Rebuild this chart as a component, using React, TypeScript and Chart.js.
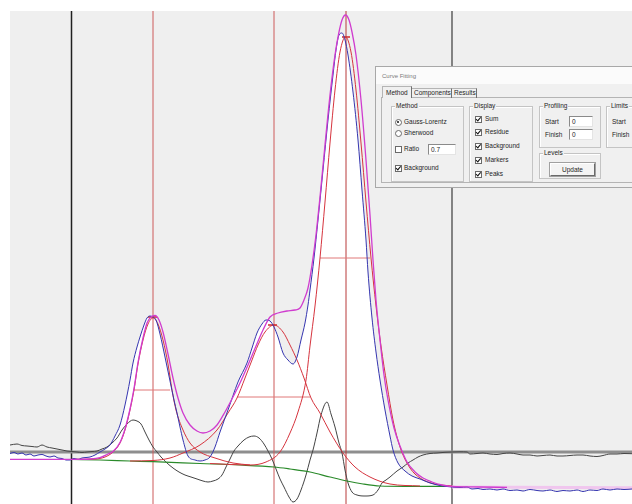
import React, { useEffect, useRef } from "react";
import { Chart, registerables } from "chart.js";

Chart.register(...registerables);

// ---- axis ranges (channel / intensity, arbitrary units) ----
const X_MIN = 0;
const X_MAX = 622;
const Y_MIN = 0;
const Y_MAX = 493;

// ---- measured spectrum (blue) ----
const measured: [number, number][] = [
  [0, 50.5], [4, 51.5], [8, 50], [12, 51], [16, 49], [20, 50], [24, 48], [28, 49], [32, 49.5], [36, 48],
  [40, 47], [44, 48], [48, 46], [52, 45.5], [56, 44], [60, 44], [64, 45.5], [68, 44.5], [72, 46], [76, 46.5],
  [80, 47], [85, 49], [90, 52], [95, 55], [100, 59], [105, 68], [110, 79], [115, 99], [120, 124], [123, 141],
  [127, 157], [130, 167], [134, 179], [137, 186], [140, 188], [143, 187], [146, 184], [150, 170], [155, 147],
  [160, 123], [164, 104], [167, 91], [170, 77], [173, 64], [178, 48], [185, 44], [190, 43], [195, 44], [200, 47],
  [205, 57], [210, 72], [218, 94], [228, 122], [237, 141], [242, 156], [247, 171], [252, 180], [256, 184],
  [260, 183], [264, 177], [268, 167], [273, 151], [278, 144], [283, 140], [287, 147], [291, 164], [295, 181],
  [298, 199], [300, 214], [304, 246], [308, 284], [313, 334], [318, 384], [323, 429], [326, 454], [329, 469],
  [332, 471], [335, 464], [338, 449], [343, 412], [348, 364], [352, 314], [356, 264], [358, 232], [362, 186],
  [366, 152], [370, 124], [375, 94], [380, 68], [383, 54], [388, 41], [395, 33], [402, 28], [410, 25],
  [420, 21], [430, 18.5], [442, 17], [450, 16.5], [457, 17], [462, 15], [468, 15.5], [473, 14.5], [480, 15],
  [487, 14], [493, 15], [500, 13.5], [507, 14], [513, 13], [520, 14.5], [527, 13.5], [533, 13], [540, 14],
  [547, 12.5], [553, 13.5], [560, 13], [567, 14], [573, 12.5], [580, 14], [587, 13.5], [593, 15], [600, 14],
  [607, 15], [614, 14.5], [622, 15],
];

// ---- fitted sum (magenta) ----
const fitSum: [number, number][] = [
  [0, 44.7], [62, 44.7], [80, 45], [90, 46.3], [98, 50], [103, 52.5], [110, 61.5], [115, 75], [120, 95],
  [124, 115.5], [128, 141.5], [133, 166], [137, 181], [141, 187], [145, 188.5], [149, 184], [153, 172],
  [158, 150], [163, 126], [168, 106],
  [173, 91], [180, 79], [187, 73], [193, 71], [200, 73], [207, 79], [215, 92], [223, 107], [230, 121],
  [238, 139], [246, 158], [253, 174], [260, 187], [268, 191], [277, 193], [285, 194], [290, 196], [294, 204],
  [298, 216], [302, 239], [306, 269], [310, 307], [315, 359], [320, 409], [325, 449], [329, 472], [332, 484],
  [335.5, 489], [339, 484], [342, 472], [346, 449], [351, 404], [356, 344], [360, 289], [363, 244], [366, 204],
  [370, 164], [374, 129], [378, 104], [384, 76], [390, 58], [397, 42], [405, 32], [413, 26], [422, 22],
  [432, 19], [442, 17.5], [470, 17], [497, 16.6],
];
const sumExtension: [number, number][] = [[442, 17], [622, 16.2]];

// ---- fitted components (red) ----
const peak1: [number, number][] = [
  [62, 44.7], [85, 45], [95, 47], [103, 52], [110, 61], [115, 74], [120, 94], [124, 114], [128, 140], [133, 164],
  [138, 180], [143, 186], [148, 180], [153, 164], [158, 140], [162, 114], [166, 94], [173, 74], [180, 61],
  [190, 52], [205, 46], [223, 41], [240, 39],
];
const peak2: [number, number][] = [
  [120, 43], [143, 43.5], [160, 46], [173, 51], [190, 59], [207, 74], [218, 91], [227, 106], [235, 126],
  [242, 144], [248, 159], [255, 172], [264, 179], [273, 172], [280, 159], [287, 144], [294, 126], [301, 106],
  [310, 91], [320, 72], [333, 51], [345, 37], [360, 27], [380, 20], [410, 18],
];
const peak3: [number, number][] = [
  [200, 40.5], [240, 39], [256, 42], [270, 52], [280, 71], [288, 92], [296, 124], [300, 158], [305, 198],
  [310, 246], [315, 302], [320, 361], [325, 414], [330, 452], [335.5, 467], [341, 452], [346, 414], [351, 361],
  [356, 302], [361, 246], [366, 198], [371, 158], [377, 119], [383, 84], [390, 57], [400, 36], [410, 26],
  [425, 20], [442, 18],
];

// ---- background (green) ----
const background: [number, number][] = [
  [62, 44.7], [90, 44], [120, 43], [143, 42.3], [190, 40.5], [230, 39], [264, 37], [280, 35], [300, 32],
  [320, 27], [337, 23], [353, 20], [370, 18], [400, 17.6], [442, 17.5],
];

// ---- residue (dark grey), plotted about its zero line ----
const residue: [number, number][] = [
  [0, 59], [7, 60], [12, 58.5], [17, 58], [22, 57.5], [27, 57], [32, 59], [37, 57], [42, 56], [47, 55],
  [52, 54], [57, 53], [62, 52.5], [67, 52], [72, 51.5], [77, 52], [82, 52.5], [87, 53], [92, 55], [97, 57],
  [102, 61], [107, 66], [112, 74], [117, 80], [123, 84], [127, 83], [131, 80], [135, 72], [139, 64], [143, 57],
  [147, 52], [151, 47], [157, 41], [163, 36], [169, 32], [175, 29], [181, 27], [187, 25], [193, 23], [198, 22],
  [203, 23], [208, 25], [212, 29], [216, 37], [220, 45], [224, 53], [228, 58], [234, 64], [239, 67], [244, 68],
  [249, 66], [254, 60], [258, 53], [262, 45], [266, 35], [270, 25], [274, 17], [279, 7], [283, 2], [287, 5],
  [291, 14], [296, 29], [300, 44], [303, 54], [307, 71], [311, 89], [317, 102], [321, 90], [325, 77], [329, 61],
  [332, 51], [335, 34], [338, 21], [342, 12], [347, 9], [355, 8], [363, 9], [368, 14], [372, 21], [376, 24],
  [380, 27], [387, 33], [393, 37], [398, 41], [403, 44], [408, 47], [413, 49], [420, 50.5], [427, 51],
  [435, 51.7], [442, 52], [450, 52.2], [457, 52], [460, 50], [467, 50.5], [473, 51], [480, 50], [487, 49.5],
  [493, 50.5], [500, 51], [507, 50], [513, 49], [520, 49], [527, 48], [533, 48.5], [540, 49], [547, 48],
  [553, 48], [560, 48.5], [567, 49], [573, 49], [580, 48], [587, 47.5], [593, 48.5], [600, 50], [607, 50],
  [614, 50.5], [622, 50.3],
];
const residueZero = 52;

// ---- markers ----
const fitLimits = [61.5, 442];
const peakCentres = [143, 264, 336];
// [xFrom, xTo, y] half-maximum bars
const fwhmBars: [number, number, number][] = [
  [123, 160, 114],
  [227, 300, 107],
  [310, 360, 246],
];
// [xFrom, xTo, y] peak-top ticks
const peakTops: [number, number, number][] = [
  [138, 147, 187],
  [258, 267, 179],
  [332, 340, 467],
];

const toXY = (arr: [number, number][]) => arr.map(([x, y]) => ({ x, y }));

const curve = (data: [number, number][], color: string, width: number, extra: any = {}) => ({
  data: toXY(data),
  borderColor: color,
  borderWidth: width,
  pointRadius: 0,
  fill: false,
  cubicInterpolationMode: "monotone",
  ...extra,
});

const straight = (pts: { x: number; y: number }[], color: string, width: number) => ({
  data: pts,
  borderColor: color,
  borderWidth: width,
  pointRadius: 0,
  fill: false,
  tension: 0,
});

const chartBg = {
  id: "chartBg",
  beforeDraw(chart: any) {
    const { ctx, chartArea: a } = chart;
    ctx.save();
    ctx.fillStyle = "#ffffff";
    ctx.fillRect(0, 0, chart.width, chart.height);
    ctx.fillStyle = "#efefef";
    ctx.fillRect(a.left, a.top, a.right - a.left, a.bottom - a.top);
    ctx.restore();
  },
};

const FONT = '"Liberation Sans", Arial, sans-serif';
const BG = "#f0f0f0";

function Txt({ x, y, children, size = 6.5, color = "#1e1e1e" }: any) {
  return (
    <div
      style={{
        position: "absolute",
        left: x,
        top: y - 4,
        fontSize: size,
        lineHeight: "8px",
        color,
        whiteSpace: "nowrap",
        fontFamily: FONT,
      }}
    >
      {children}
    </div>
  );
}

function Group({ x, y, w, h, title }: any) {
  return (
    <div
      style={{
        position: "absolute",
        left: x,
        top: y,
        width: w,
        height: h,
        border: "1px solid #c4c4c4",
        boxShadow: "1px 1px 0 #ffffff inset",
        boxSizing: "border-box",
      }}
    >
      <div
        style={{
          position: "absolute",
          left: 3,
          top: -5,
          background: BG,
          padding: "0 1px",
          fontSize: 6.5,
          lineHeight: "8px",
          fontFamily: FONT,
          color: "#1e1e1e",
          whiteSpace: "nowrap",
        }}
      >
        {title}
      </div>
    </div>
  );
}

function Check({ x, y, on }: any) {
  return (
    <div
      style={{
        position: "absolute",
        left: x - 3.5,
        top: y - 3.5,
        width: 7,
        height: 7,
        border: "1px solid #6a6a6a",
        background: "#ffffff",
        boxSizing: "border-box",
      }}
    >
      {on ? (
        <div
          style={{
            position: "absolute",
            left: 1.5,
            top: -0.5,
            width: 1.6,
            height: 3.6,
            borderRight: "1.3px solid #111",
            borderBottom: "1.3px solid #111",
            transform: "rotate(40deg)",
          }}
        />
      ) : null}
    </div>
  );
}

function Radio({ x, y, on }: any) {
  return (
    <div
      style={{
        position: "absolute",
        left: x - 3.5,
        top: y - 3.5,
        width: 7,
        height: 7,
        borderRadius: "50%",
        border: "1px solid #6a6a6a",
        background: "#ffffff",
        boxSizing: "border-box",
      }}
    >
      {on ? (
        <div
          style={{
            position: "absolute",
            left: 1.5,
            top: 1.5,
            width: 2,
            height: 2,
            borderRadius: "50%",
            background: "#111",
          }}
        />
      ) : null}
    </div>
  );
}

function Field({ x, y, w, h, value }: any) {
  return (
    <div
      style={{
        position: "absolute",
        left: x,
        top: y,
        width: w,
        height: h,
        background: "#ffffff",
        borderTop: "1px solid #8a8a8a",
        borderLeft: "1px solid #8a8a8a",
        borderRight: "1px solid #e4e4e4",
        borderBottom: "1px solid #e4e4e4",
        boxSizing: "border-box",
        fontSize: 6.5,
        lineHeight: `${h - 2}px`,
        paddingLeft: 2,
        fontFamily: FONT,
        color: "#1e1e1e",
      }}
    >
      {value}
    </div>
  );
}

function Dialog() {
  return (
    <div
      style={{
        position: "absolute",
        left: 375,
        top: 66,
        width: 275,
        height: 122,
        background: BG,
        border: "1px solid #a8a8a8",
        boxSizing: "border-box",
        fontFamily: FONT,
      }}
    >
      <div style={{ position: "absolute", left: 0, top: 0, right: 0, height: 17, background: "#fbfbfb" }} />
      <Txt x={6} y={9} size={6} color="#7a7a7a">Curve Fitting</Txt>
      {/* panel */}
      <div
        style={{
          position: "absolute",
          left: 5,
          top: 30,
          width: 280,
          height: 86,
          border: "1px solid #b4b4b4",
          boxSizing: "border-box",
        }}
      />
      {/* tabs */}
      <div
        style={{
          position: "absolute",
          left: 6,
          top: 19,
          width: 30,
          height: 12,
          background: BG,
          borderLeft: "1px solid #b4b4b4",
          borderTop: "1px solid #b4b4b4",
          borderRight: "1px solid #707070",
          boxSizing: "border-box",
        }}
      />
      <div
        style={{
          position: "absolute",
          left: 36,
          top: 21,
          width: 40,
          height: 10,
          borderTop: "1px solid #b4b4b4",
          borderRight: "1px solid #707070",
          boxSizing: "border-box",
        }}
      />
      <div
        style={{
          position: "absolute",
          left: 76,
          top: 21,
          width: 25,
          height: 10,
          borderTop: "1px solid #b4b4b4",
          borderRight: "1px solid #707070",
          boxSizing: "border-box",
        }}
      />
      <Txt x={10} y={26}>Method</Txt>
      <Txt x={38} y={26}>Components</Txt>
      <Txt x={78} y={26}>Results</Txt>

      <Group x={15} y={39} w={73} h={76} title="Method" />
      <Radio x={22} y={55} on />
      <Txt x={28} y={55}>Gauss-Lorentz</Txt>
      <Radio x={22} y={66} on={false} />
      <Txt x={28} y={66}>Sherwood</Txt>
      <Check x={22} y={82} on={false} />
      <Txt x={28} y={82}>Ratio</Txt>
      <Field x={52} y={77} w={28} h={11} value="0.7" />
      <Check x={22} y={101} on />
      <Txt x={28} y={101}>Background</Txt>

      <Group x={93} y={39} w={64} h={76} title="Display" />
      <Check x={102} y={52} on />
      <Txt x={109} y={52}>Sum</Txt>
      <Check x={102} y={65} on />
      <Txt x={109} y={65}>Residue</Txt>
      <Check x={102} y={79} on />
      <Txt x={109} y={79}>Background</Txt>
      <Check x={102} y={93} on />
      <Txt x={109} y={93}>Markers</Txt>
      <Check x={102} y={107} on />
      <Txt x={109} y={107}>Peaks</Txt>

      <Group x={163} y={39} w={62} h={42} title="Profiling" />
      <Txt x={169} y={55}>Start</Txt>
      <Field x={193} y={49} w={24} h={11} value="0" />
      <Txt x={169} y={68}>Finish</Txt>
      <Field x={193} y={62} w={24} h={11} value="0" />

      <Group x={163} y={86} w={62} h={26} title="Levels" />
      <div
        style={{
          position: "absolute",
          left: 174,
          top: 96,
          width: 45,
          height: 13,
          background: "#f4f4f4",
          borderTop: "1px solid #ffffff",
          borderLeft: "1px solid #ffffff",
          borderRight: "1px solid #6a6a6a",
          borderBottom: "1px solid #6a6a6a",
          boxShadow: "0 0 0 1px #a0a0a0",
          boxSizing: "border-box",
          fontSize: 6.5,
          lineHeight: "11px",
          textAlign: "center",
          color: "#1e1e1e",
          fontFamily: FONT,
        }}
      >
        Update
      </div>

      <Group x={230} y={39} w={60} h={42} title="Limits" />
      <Txt x={236} y={55}>Start</Txt>
      <Txt x={236} y={68}>Finish</Txt>
    </div>
  );
}

export default function App() {
  const canvasRef = useRef<HTMLCanvasElement | null>(null);

  useEffect(() => {
    if (!canvasRef.current) return;
    const vLine = (x: number) => [
      { x, y: Y_MIN },
      { x, y: Y_MAX },
    ];
    const hSeg = (a: number, b: number, y: number) => [
      { x: a, y },
      { x: b, y },
    ];

    const datasets: any[] = [
      curve(fitSum, "#d03ccf", 1.3),
      curve(measured, "#3535b0", 1, { fill: "start", backgroundColor: "#ffffff" }),
      curve(peak1, "#d6343e", 1),
      curve(peak2, "#d6343e", 1),
      curve(peak3, "#d6343e", 1),
      curve(background, "#2a8a2a", 1.2),
      curve(residue, "#444444", 1),
      ...fwhmBars.map(([a, b, y]) => straight(hSeg(a, b, y), "#e07878", 1)),
      ...peakTops.map(([a, b, y]) => straight(hSeg(a, b, y), "#cc2a2a", 1.5)),
      ...peakCentres.map((x, i) => straight(vLine(x), i === 2 ? "#b83a3a" : "#cd5a5a", 1)),
      curve(sumExtension, "#f0c6ee", 3),
      straight(hSeg(X_MIN, X_MAX, residueZero), "#8e8e8e", 3),
      ...fitLimits.map((x, i) => straight(vLine(x), i === 0 ? "#202020" : "#3a3a3a", i === 0 ? 1.5 : 1.2)),
    ];

    const chart = new Chart(canvasRef.current, {
      type: "line",
      data: { datasets },
      options: {
        responsive: false,
        animation: false,
        events: [],
        layout: { padding: { left: 10, top: 11, right: 0, bottom: 0 } },
        plugins: {
          legend: { display: false },
          tooltip: { enabled: false },
          filler: { drawTime: "beforeDatasetsDraw" },
        },
        scales: {
          x: { type: "linear", min: X_MIN, max: X_MAX, display: false },
          y: { type: "linear", min: Y_MIN, max: Y_MAX, display: false },
        },
      },
      plugins: [chartBg],
    } as any);
    return () => chart.destroy();
  }, []);

  return (
    <div
      style={{
        position: "absolute",
        left: 0,
        top: 0,
        width: 632,
        height: 504,
        overflow: "hidden",
        background: "#ffffff",
      }}
    >
      <canvas ref={canvasRef} width={632} height={504} style={{ display: "block", width: 632, height: 504 }} />
      <Dialog />
    </div>
  );
}
